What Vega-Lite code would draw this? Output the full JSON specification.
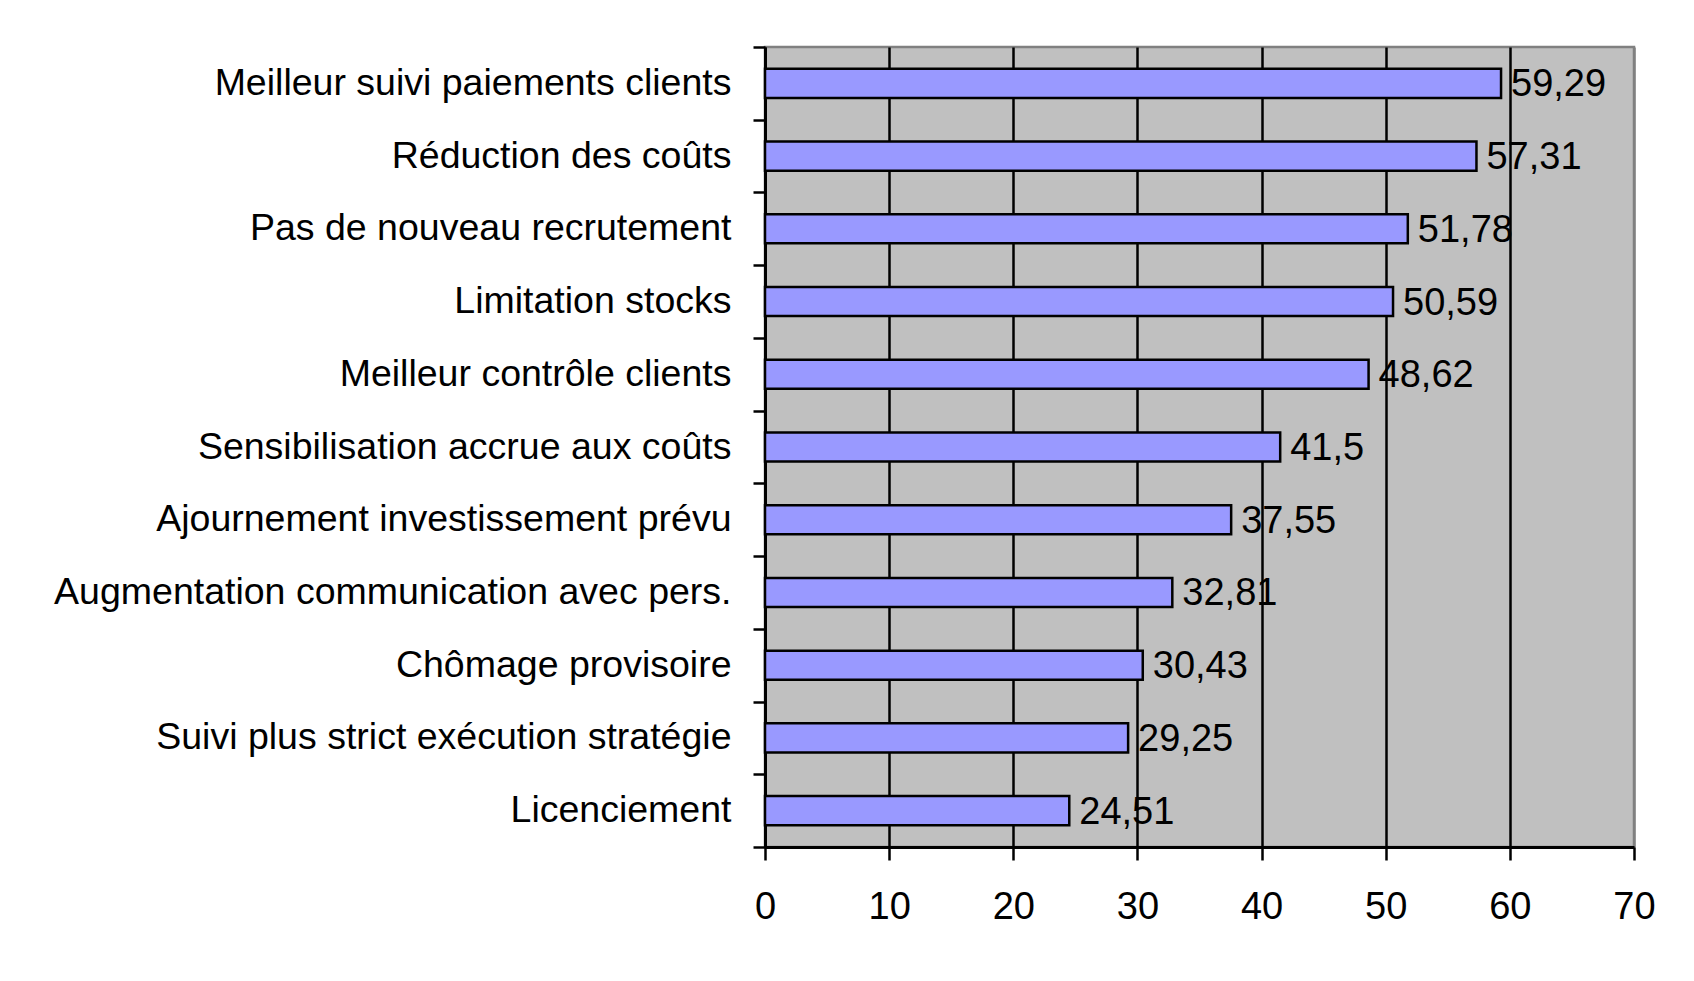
{
  "$schema": "https://vega.github.io/schema/vega-lite/v6.json",
  "autosize": {"type": "none"},
  "padding": {"left": 765, "top": 47, "right": 60, "bottom": 134},
  "width": 869,
  "height": 800,
  "background": "white",
  "config": {
    "locale": {"number": {"decimal": ",", "thousands": " ", "grouping": [3], "currency": ["", " €"]}},
    "font": "Liberation Sans",
    "view": {"fill": "#C0C0C0", "stroke": "#808080", "strokeWidth": 2.5}
  },
  "data": {
    "values": [
      {"cat": "Meilleur suivi paiements clients", "val": 59.29},
      {"cat": "Réduction des coûts", "val": 57.31},
      {"cat": "Pas de nouveau recrutement", "val": 51.78},
      {"cat": "Limitation stocks", "val": 50.59},
      {"cat": "Meilleur contrôle clients", "val": 48.62},
      {"cat": "Sensibilisation accrue aux coûts", "val": 41.5},
      {"cat": "Ajournement investissement prévu", "val": 37.55},
      {"cat": "Augmentation communication avec pers.", "val": 32.81},
      {"cat": "Chômage provisoire", "val": 30.43},
      {"cat": "Suivi plus strict exécution stratégie", "val": 29.25},
      {"cat": "Licenciement", "val": 24.51}
    ]
  },
  "encoding": {
    "y": {
      "field": "cat", "type": "nominal", "sort": null, "title": null,
      "scale": {"paddingInner": 0, "paddingOuter": 0},
      "axis": {
        "domainColor": "black", "domainWidth": 3,
        "tickBand": "extent", "ticks": true, "tickColor": "black", "tickWidth": 2.5, "tickSize": 12,
        "labelFontSize": 37.5, "labelColor": "black", "labelPadding": 22, "labelLimit": 800,
        "labelFont": "Liberation Sans", "grid": false
      }
    },
    "x": {
      "field": "val", "type": "quantitative", "title": null,
      "scale": {"domain": [0, 70], "nice": false, "zero": true},
      "axis": {
        "values": [0, 10, 20, 30, 40, 50, 60, 70],
        "domainColor": "black", "domainWidth": 3,
        "grid": true,
        "gridColor": {"condition": {"test": "datum.value === 70", "value": "#808080"}, "value": "black"},
        "gridWidth": 2.5, "gridOpacity": 1,
        "tickColor": "black", "tickWidth": 2.5, "tickSize": 13,
        "labelFontSize": 38, "labelColor": "black", "labelPadding": 28,
        "labelFont": "Liberation Sans", "labelFlush": false
      }
    }
  },
  "layer": [
    {"mark": {"type": "bar", "height": {"band": 0.4}, "fill": "#9999FF", "stroke": "black", "strokeWidth": 2.5}},
    {
      "mark": {"type": "text", "align": "left", "baseline": "middle", "dx": 10, "dy": 2, "fontSize": 38, "color": "black", "font": "Liberation Sans"},
      "encoding": {"text": {"field": "val", "type": "quantitative", "format": ".4~g"}}
    }
  ]
}
